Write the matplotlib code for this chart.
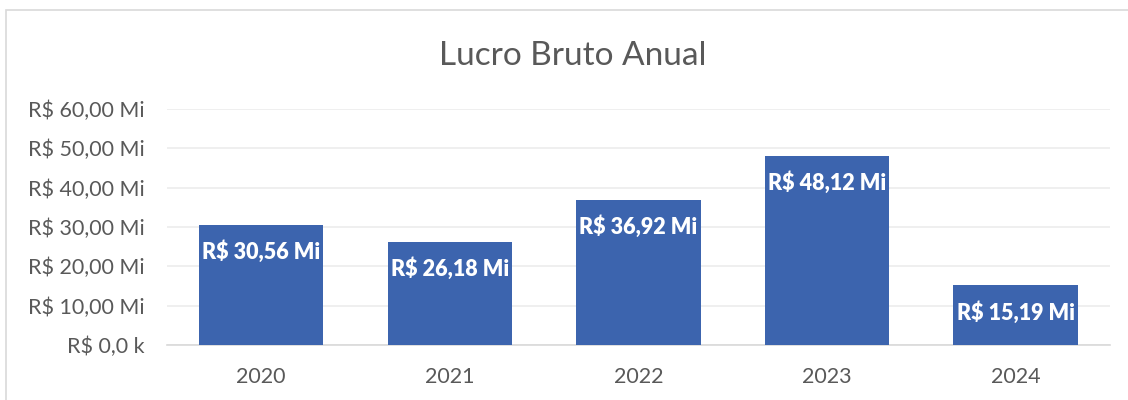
import matplotlib.pyplot as plt
from matplotlib.patches import Rectangle

anos = ["2020", "2021", "2022", "2023", "2024"]
lucro = [30.56, 26.18, 36.92, 48.12, 15.19]
rotulos = ["R$ 30,56 Mi", "R$ 26,18 Mi", "R$ 36,92 Mi", "R$ 48,12 Mi", "R$ 15,19 Mi"]
yticks = [0, 10, 20, 30, 40, 50, 60]
ytick_labels = ["R$ 0,0 k", "R$ 10,00 Mi", "R$ 20,00 Mi", "R$ 30,00 Mi",
                "R$ 40,00 Mi", "R$ 50,00 Mi", "R$ 60,00 Mi"]

plt.rcParams['font.family'] = ['Lato', 'DejaVu Sans']

fig = plt.figure(figsize=(11.28, 4), dpi=100)
ax = fig.add_axes([0.148, 0.1375, 0.836, 0.59])

# chart border
fig.patches.append(Rectangle((6 / 1128, -0.1), 1.2, 0.1 + 390 / 400,
                             transform=fig.transFigure, fill=False,
                             edgecolor='#d9d9d9', linewidth=1.2))

x = range(len(anos))
bars = ax.bar(x, lucro, width=0.66, color='#3c64ae', zorder=3)
for b, lab in zip(bars, rotulos):
    ax.annotate(lab, (b.get_x() + b.get_width() / 2, b.get_height()),
                xytext=(0, -27), textcoords='offset pixels',
                ha='center', va='center', color='white',
                fontsize=15.5, fontweight='heavy', zorder=4)

ax.set_xlim(-0.5, len(anos) - 0.5)
ax.set_ylim(0, 60)
ax.set_xticks(list(x))
ax.set_xticklabels(anos)
ax.set_yticks(yticks)
ax.set_yticklabels(ytick_labels)
ax.tick_params(length=0, labelsize=15.5, colors='#595959')
ax.tick_params(axis='y', pad=16)
ax.tick_params(axis='x', pad=16)
ax.grid(axis='y', color='#ececec', linewidth=1.2, zorder=0)
for s in ['top', 'right', 'left']:
    ax.spines[s].set_visible(False)
ax.spines['bottom'].set_color('#d9d9d9')
ax.spines['bottom'].set_linewidth(1.2)

fig.text(0.508, 0.86, "Lucro Bruto Anual", ha='center', va='center',
         fontsize=24, color='#595959')

fig.savefig('out.png', dpi=100)
